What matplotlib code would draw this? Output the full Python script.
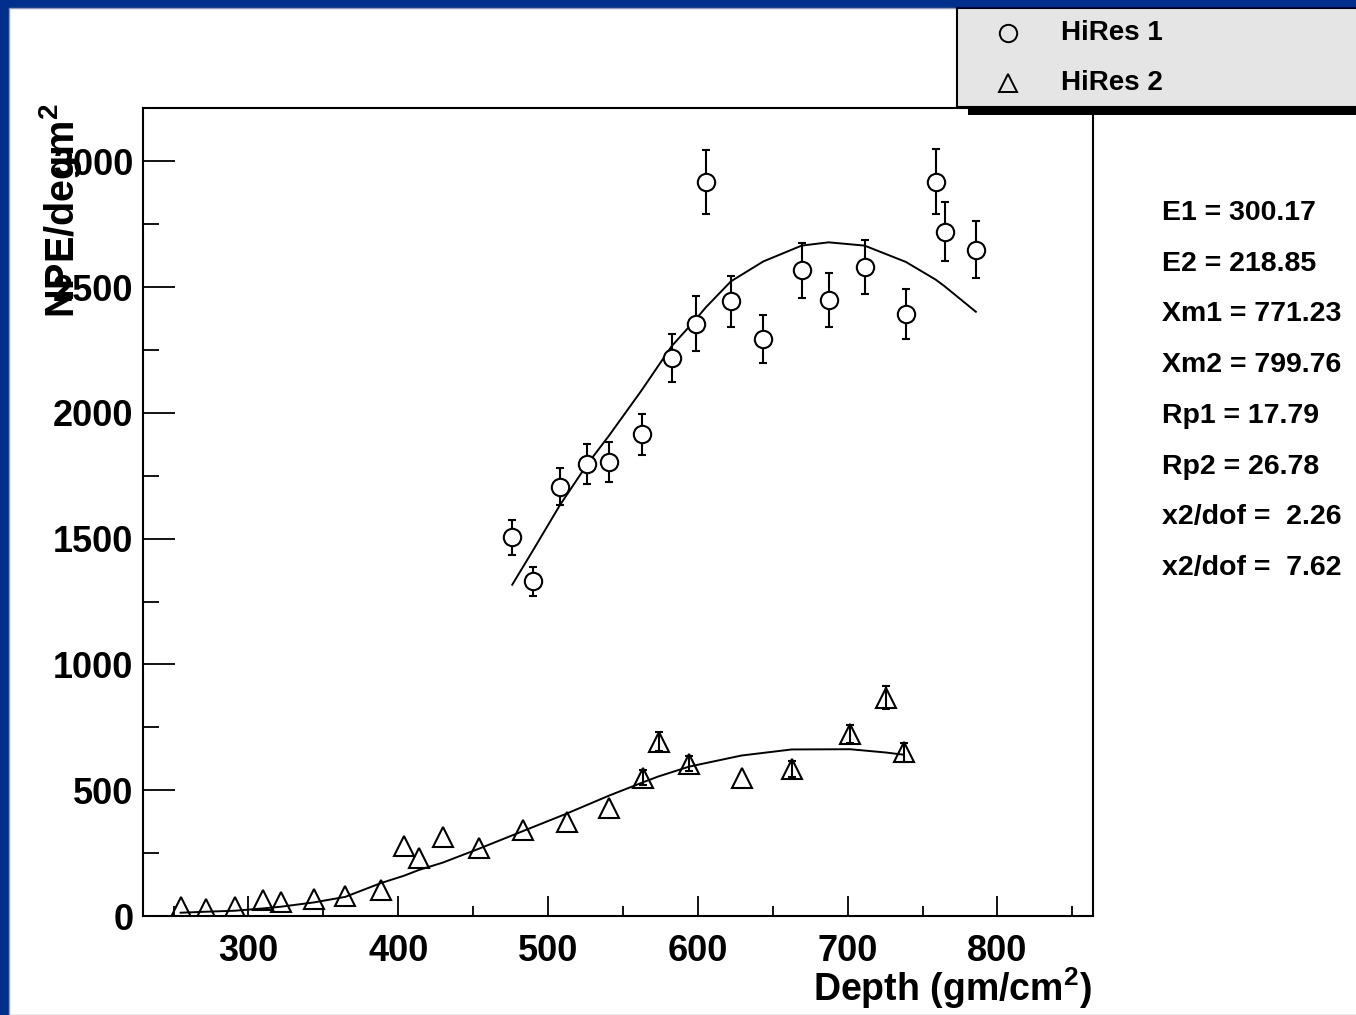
import matplotlib
matplotlib.use('Agg')
import matplotlib.pyplot as plt
from matplotlib.patches import Rectangle

# HiRes 1 points (circles) and fit curve
x1 = [476.1, 489.9, 507.9, 526.2, 540.5, 562.5, 582.5, 598.5, 605.4, 622.1,
      643.7, 669.3, 687.3, 711.3, 738.9, 758.7, 764.8, 785.6]
y1 = [1505, 1330, 1706, 1796, 1806, 1915, 2218, 2355, 2919, 2443,
      2294, 2567, 2450, 2581, 2394, 2919, 2721, 2649]
e1 = [71, 59, 73, 79, 79, 81, 94, 110, 127, 103,
      96, 109, 107, 108, 100, 129, 117, 112]
fit1 = [1317, 1453, 1633, 1796, 1908, 2090, 2265, 2371, 2420, 2523,
        2602, 2665, 2678, 2665, 2600, 2530, 2503, 2402]

# HiRes 2 points (triangles) and fit curve; 0 = bar hidden by the marker
x2 = [254.7, 271.4, 291.0, 309.5, 321.7, 343.7, 364.6, 388.5, 403.8, 413.8,
      429.6, 454.1, 483.0, 512.4, 540.9, 563.6, 573.8, 594.3, 629.2, 662.6,
      701.5, 725.4, 737.6]
y2 = [35, 27, 34, 63, 54, 67, 80, 103, 279, 231,
      314, 269, 341, 375, 431, 549, 693, 606, 547, 585,
      722, 868, 650]
e2 = [0, 0, 0, 0, 0, 0, 0, 0, 0, 0,
      0, 0, 0, 0, 0, 30, 38, 30, 0, 33,
      36, 47, 36]
fit2 = [13, 17, 21, 30, 37, 54, 76, 131, 160, 183,
        212, 268, 337, 407, 479, 532, 555, 594, 638, 662,
        663, 650, 641]

fit_text = ['E1 = 300.17', 'E2 = 218.85', 'Xm1 = 771.23', 'Xm2 = 799.76',
            'Rp1 = 17.79', 'Rp2 = 26.78', 'x2/dof =  2.26', 'x2/dof =  7.62']
legend_names = ['HiRes 1', 'HiRes 2']

plt.rcParams['font.family'] = ['Liberation Sans', 'DejaVu Sans']
plt.rcParams['font.weight'] = 'bold'
plt.rcParams['mathtext.fontset'] = 'custom'
plt.rcParams['mathtext.rm'] = 'Liberation Sans:bold'
plt.rcParams['mathtext.bf'] = 'Liberation Sans:bold'
plt.rcParams['mathtext.default'] = 'bf'

W, H = 1356, 1015
fig = plt.figure(figsize=(W / 100, H / 100), dpi=100, facecolor='#00308c')
fig.patches.append(Rectangle((9 / W, 0), 1, (H - 8) / H, transform=fig.transFigure,
                             facecolor='white', edgecolor='#9a9aa8', lw=1, zorder=-10))

ax = fig.add_axes([143 / W, 1 - 916 / H, 950 / W, 808 / H])
ax.errorbar(x1, y1, yerr=e1, fmt='o', ms=12.5, mfc='white', mec='black', mew=1.5,
            ecolor='black', elinewidth=1.5, capsize=3, capthick=1.5)

# triangles: bars only where they stick out of the marker
xb = [x for x, e in zip(x2, e2) if e > 0]
yb = [y for y, e in zip(y2, e2) if e > 0]
eb = [e for e in e2 if e > 0]
ax.errorbar(xb, yb, yerr=eb, fmt='none', ecolor='black', elinewidth=1.5,
            capsize=3, capthick=1.5)
ax.plot(x2, y2, '^', ms=14, mfc='none', mec='black', mew=1.5)

ax.plot(x1, fit1, color='black', lw=1.4)
ax.plot(x2, fit2, color='black', lw=1.4)

ax.set_xlim(229.6, 863.8)
ax.set_ylim(0, 3212)
ax.set_xticks(range(300, 801, 100))
ax.set_xticks(range(250, 851, 50), minor=True)
ax.set_yticks(range(0, 3001, 500))
ax.set_yticks(range(0, 3001, 250), minor=True)
ax.tick_params(which='both', direction='in', top=False, right=False, width=1.3,
               labelsize=26)
ax.tick_params(axis='x', which='major', length=14.5, pad=13)
ax.tick_params(axis='x', which='minor', length=7.2)
ax.tick_params(axis='y', which='major', length=23, pad=7)
ax.tick_params(axis='y', which='minor', length=11.5)
for lab in ax.get_xticklabels() + ax.get_yticklabels():
    lab.set_fontweight('bold')
for sp in ax.spines.values():
    sp.set_linewidth(1.5)

fig.text(1092 / W, 1 - 988 / H, 'Depth (gm/cm$^{2}$)', ha='right', va='center',
         fontsize=27, fontweight='bold')
fig.text(61 / W, 1 - 103 / H, 'NPE/degm$^{2}$', rotation=90, ha='center', va='top',
         fontsize=28.5, fontweight='bold')

for i, s in enumerate(fit_text):
    fig.text(1162 / W, 1 - (213 + 50.7 * i) / H, s, ha='left', va='center',
             fontsize=20.5, fontweight='bold')

# legend box with shadow
fig.patches.append(Rectangle((968 / W, 1 - 115 / H), 1, 8 / H, transform=fig.transFigure,
                             facecolor='black', edgecolor='none', zorder=5))
lg = fig.add_axes([957 / W, 1 - 107 / H, (W - 957 + 5) / W, 99 / H], zorder=6)
lg.set_facecolor('#e5e5e5')
lg.set_xlim(0, 1)
lg.set_ylim(0, 1)
lg.set_xticks([])
lg.set_yticks([])
for sp in lg.spines.values():
    sp.set_linewidth(1.5)
lg.plot([0.126], [0.75], 'o', ms=12.5, mfc='none', mec='black', mew=1.4)
lg.plot([0.126], [0.245], '^', ms=13.5, mfc='none', mec='black', mew=1.4)
lg.text(0.257, 0.75, legend_names[0], ha='left', va='center', fontsize=20, fontweight='bold')
lg.text(0.257, 0.245, legend_names[1], ha='left', va='center', fontsize=20, fontweight='bold')

fig.savefig('out.png', dpi=100, facecolor=fig.get_facecolor())
